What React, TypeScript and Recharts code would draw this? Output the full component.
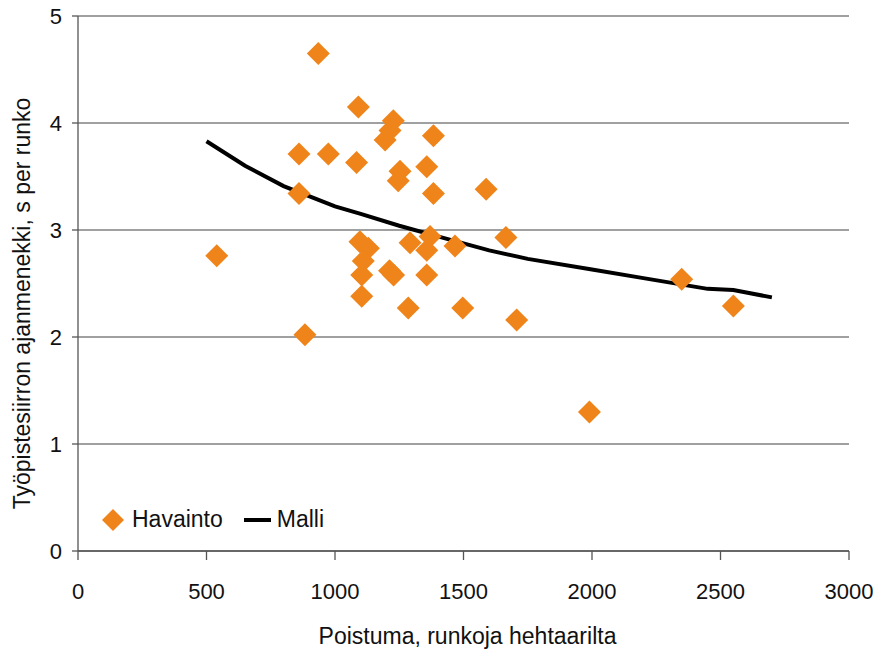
import React from "react";
import {
  ComposedChart,
  Scatter,
  Line,
  XAxis,
  YAxis,
  CartesianGrid,
  Legend,
  Label,
} from "recharts";

const obsX = [
  935, 1091, 1227, 1214, 1195, 1383, 860, 974, 1084, 1253, 1357, 1246, 860, 1383, 1588,
  540, 1097, 1130, 1110, 1104, 1104, 1212, 1228, 1292, 1357, 1370, 1467, 1665, 1357,
  1285, 1497, 1707, 883, 2349, 2550, 1990,
];
const obsY = [
  4.65, 4.15, 4.02, 3.93, 3.84, 3.88, 3.71, 3.71, 3.63, 3.55, 3.59, 3.46, 3.34, 3.34, 3.38,
  2.76, 2.89, 2.83, 2.71, 2.58, 2.38, 2.62, 2.58, 2.88, 2.81, 2.94, 2.85, 2.93, 2.58,
  2.27, 2.27, 2.16, 2.02, 2.54, 2.29, 1.3,
];
const modelX = [500, 650, 800, 1000, 1100, 1250, 1400, 1600, 1750, 2000, 2200, 2450, 2550, 2700];
const modelY = [3.83, 3.6, 3.41, 3.22, 3.15, 3.04, 2.94, 2.81, 2.73, 2.63, 2.55, 2.45, 2.44, 2.37];
const xTicks = [0, 500, 1000, 1500, 2000, 2500, 3000];
const yTicks = [0, 1, 2, 3, 4, 5];

const obsName = "Havainto";
const modelName = "Malli";
const xTitle = "Poistuma, runkoja hehtaarilta";
const yTitle = "Työpistesiirron ajanmenekki, s per runko";

const observations = obsX.map((x, i) => ({ x, y: obsY[i] }));
const model = modelX.map((x, i) => ({ x, y: modelY[i] }));

const FONT = '"Liberation Sans", Arial, sans-serif';
const ORANGE = "#EF841B";

const Diamond = (props: any) => {
  const { cx, cy } = props;
  if (cx == null || cy == null) return null;
  const r = 11.5;
  return (
    <polygon
      points={`${cx},${cy - r} ${cx + r},${cy} ${cx},${cy + r} ${cx - r},${cy}`}
      fill={ORANGE}
    />
  );
};

const LegendContent = () => (
  <div
    style={{
      display: "flex",
      alignItems: "center",
      fontFamily: FONT,
      fontSize: 23,
      color: "#111",
      whiteSpace: "nowrap",
    }}
  >
    <svg width={24} height={24} style={{ marginRight: 7 }}>
      <polygon points="12,1 23,12 12,23 1,12" fill={ORANGE} />
    </svg>
    <span>{obsName}</span>
    <svg width={27} height={6} style={{ marginLeft: 21, marginRight: 6 }}>
      <rect x={0} y={1} width={27} height={4} fill="#000" />
    </svg>
    <span>{modelName}</span>
  </div>
);

const XTitle = (props: any) => {
  const vb = props.viewBox || {};
  return (
    <text
      x={vb.x + vb.width / 2 + 4}
      y={vb.y + 93}
      textAnchor="middle"
      fontFamily={FONT}
      fontSize={23}
      fill="#111"
    >
      {xTitle}
    </text>
  );
};

const YTitle = (props: any) => {
  const vb = props.viewBox || {};
  const x = vb.x + 12;
  const y = vb.y + vb.height / 2 + 20;
  return (
    <text
      x={x}
      y={y}
      transform={`rotate(-90, ${x}, ${y})`}
      textAnchor="middle"
      fontFamily={FONT}
      fontSize={23}
      fill="#111"
    >
      {yTitle}
    </text>
  );
};

export default function App() {
  return (
    <div style={{ position: "absolute", left: 0, top: 0, width: 880, height: 650, background: "#fff" }}>
      <ComposedChart
        width={880}
        height={650}
        margin={{ top: 16, right: 31, bottom: 0, left: 18 }}
      >
        <CartesianGrid vertical={false} stroke="#808080" strokeWidth={1.3} />
        <XAxis
          dataKey="x"
          type="number"
          domain={[0, 3000]}
          ticks={xTicks}
          interval={0}
          height={99}
          tickSize={9}
          tickMargin={23}
          stroke="#555"
          strokeWidth={1.3}
          tick={{ fill: "#111", fontSize: 22, fontFamily: FONT }}
          allowDataOverflow
        >
          <Label content={<XTitle />} />
        </XAxis>
        <YAxis
          dataKey="y"
          type="number"
          domain={[0, 5]}
          ticks={yTicks}
          interval={0}
          width={60}
          tickSize={6}
          tickMargin={10}
          stroke="#555"
          strokeWidth={1.3}
          tick={{ fill: "#111", fontSize: 22, fontFamily: FONT }}
          allowDataOverflow
        >
          <Label content={<YTitle />} />
        </YAxis>
        <Legend
          layout="horizontal"
          verticalAlign="middle"
          align="center"
          content={<LegendContent />}
          wrapperStyle={{ position: "absolute", left: 101, top: 506, width: "auto", height: "auto" }}
        />
        <Scatter
          name={obsName}
          data={observations}
          dataKey="y"
          fill={ORANGE}
          shape={<Diamond />}
          isAnimationActive={false}
        />
        <Line
          name={modelName}
          data={model}
          dataKey="y"
          type="linear"
          stroke="#000"
          strokeWidth={4}
          dot={false}
          activeDot={false}
          isAnimationActive={false}
        />
      </ComposedChart>
    </div>
  );
}
